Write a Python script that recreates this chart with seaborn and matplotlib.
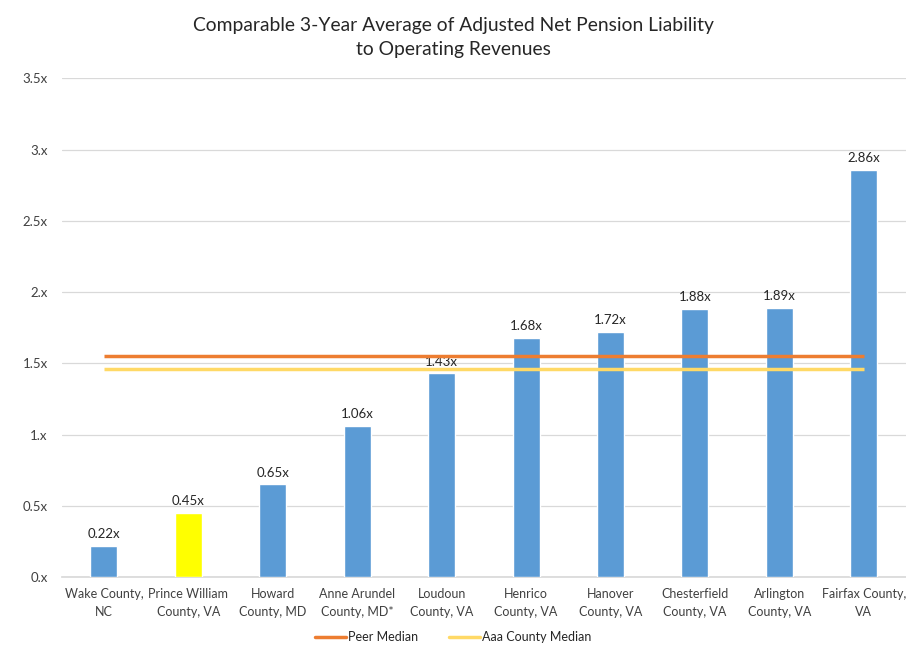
import pandas as pd
import numpy as np
import matplotlib
matplotlib.use("Agg")
import matplotlib.pyplot as plt
import seaborn as sns
from matplotlib.lines import Line2D

# Data
counties = ["Wake County,\nNC", "Prince William\nCounty, VA", "Howard\nCounty, MD",
            "Anne Arundel\nCounty, MD*", "Loudoun\nCounty, VA", "Henrico\nCounty, VA",
            "Hanover\nCounty, VA", "Chesterfield\nCounty, VA", "Arlington\nCounty, VA",
            "Fairfax County,\nVA"]
ratios = [0.22, 0.45, 0.65, 1.06, 1.43, 1.68, 1.72, 1.88, 1.89, 2.86]
peer_median = 1.55
aaa_median = 1.46
yticks = [0, 0.5, 1, 1.5, 2, 2.5, 3, 3.5]
ytick_labels = ["0.x", "0.5x", "1.x", "1.5x", "2.x", "2.5x", "3.x", "3.5x"]

df = pd.DataFrame({"County": counties, "Ratio": ratios})
bar_colors = ["#5B9BD5"] * len(counties)
bar_colors[1] = "#FFFF00"

sns.set_theme(style="white")
plt.rcParams["font.family"] = ["Lato", "DejaVu Sans"]

fig = plt.figure(figsize=(9.06, 6.47), dpi=100)
ax = fig.add_axes([0.068, 0.108, 0.932, 0.771])

sns.barplot(data=df, x="County", y="Ratio", hue="County", palette=bar_colors,
            legend=False, width=0.32, ax=ax, zorder=3, saturation=1)

for i, v in enumerate(ratios):
    ax.text(i, v + 0.04, f"{v:.2f}x", ha="center", va="bottom", fontsize=9.5, color="#262626")

n = len(counties)
ax.plot([0, n - 1], [peer_median] * 2, color="#ED7D31", lw=2.5, zorder=4, solid_capstyle="butt")
ax.plot([0, n - 1], [aaa_median] * 2, color="#FFD966", lw=2.5, zorder=4, solid_capstyle="butt")

ax.set_xlim(-0.5, n - 0.5)
ax.set_ylim(0, 3.5)
ax.set_yticks(yticks)
ax.set_yticklabels(ytick_labels, fontsize=9.5, color="#404040")
ax.tick_params(axis="x", labelsize=9, colors="#404040", length=0, pad=8)
for lbl in ax.get_xticklabels():
    lbl.set_linespacing(1.55)
ax.tick_params(axis="y", length=0, pad=10)
ax.yaxis.grid(True, color="#D9D9D9", lw=0.9, zorder=0)
ax.set_xlabel("")
ax.set_ylabel("")
for s in ["top", "right", "left"]:
    ax.spines[s].set_visible(False)
ax.spines["bottom"].set_color("#D9D9D9")

fig.suptitle("Comparable 3-Year Average of Adjusted Net Pension Liability\nto Operating Revenues",
             y=0.974, fontsize=13.9, color="#262626", linespacing=1.5)

handles = [Line2D([0], [0], color="#ED7D31", lw=2.5),
           Line2D([0], [0], color="#FFD966", lw=2.5)]
fig.legend(handles, ["Peer Median", "Aaa County Median"], loc="center",
           bbox_to_anchor=(0.5, 0.015), ncol=2, frameon=False, fontsize=9,
           handlelength=2.5, handletextpad=0.1, columnspacing=2.5)

fig.savefig("out.png", dpi=100)
